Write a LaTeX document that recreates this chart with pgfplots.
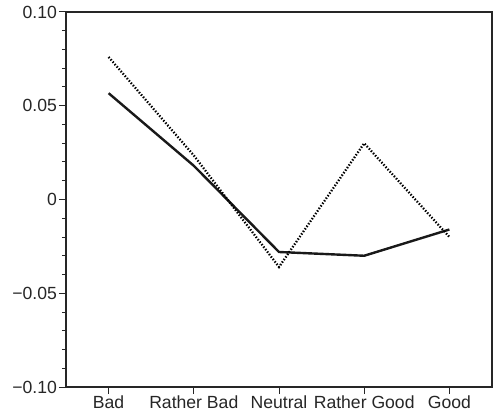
\documentclass[border=0pt]{standalone}
\usepackage{pgfplots}
\pgfplotsset{compat=1.18}
\usepackage{fontspec}
\setmainfont{Liberation Sans}
\begin{document}
\begin{tikzpicture}
\begin{axis}[
  scale only axis,
  width=426pt, height=375pt,
  xmin=-0.5, xmax=4.5,
  ymin=-0.1, ymax=0.1,
  xtick={0,1,2,3,4},
  xticklabels={Bad,Rather Bad,Neutral,Rather Good,Good},
  ytick={-0.1,-0.05,0,0.05,0.1},
  yticklabels={−0.10,−0.05,0,0.05,0.10},
  minor y tick num=4,
  tick align=outside,
  xtick pos=bottom, ytick pos=left,
  major tick length=7pt,
  minor tick length=4pt,
  tick style={line width=1pt, color=black!85},
  axis line style={line width=1.1pt, color=black!85},
  tick label style={font=\fontsize{17.6}{20}\selectfont, text=black!85},
  xticklabel style={yshift=2pt},
  yticklabel style={xshift=1.5pt},
]
\addplot[line width=2.4pt, color=black!90, line join=round] coordinates {
  (0,0.0567) (1,0.018) (2,-0.028) (3,-0.030) (4,-0.016)
};
\addplot[line width=2.3pt, color=black, dash pattern=on 1.4pt off 1.7pt] coordinates {
  (0,0.076) (1,0.0235) (2,-0.036) (3,0.030) (4,-0.020)
};
\end{axis}
\pgfresetboundingbox
\path ([shift={(-66pt,-28pt)}]current axis.south west) rectangle ([shift={(5pt,12pt)}]current axis.north east);
\end{tikzpicture}
\end{document}
